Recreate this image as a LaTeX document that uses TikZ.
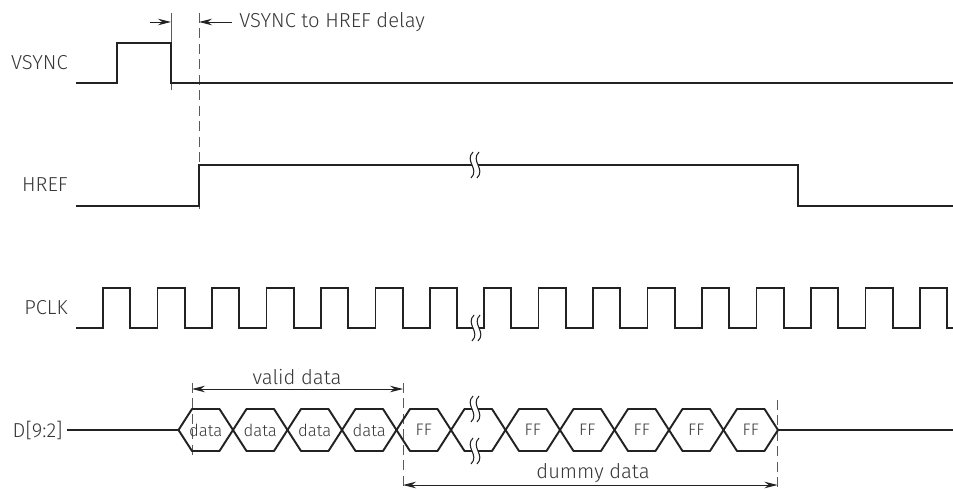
\documentclass[tikz,border=0pt]{standalone}
\usepackage{fontspec}
\setmainfont{Fira Sans Light}
\usetikzlibrary{arrows.meta,positioning}
\definecolor{sigdark}{RGB}{34,34,34}
\definecolor{txtgray}{RGB}{55,55,55}
\definecolor{dashgray}{RGB}{90,90,90}
% break mark: two wavy strokes with white between them
\newcommand{\brksym}[2]{%
  \fill[white] ({#1+1},{#2-13}) .. controls ({#1-8},{#2-4}) and ({#1+8},{#2+4}) .. ({#1-1},{#2+13})
    -- ({#1+5},{#2+13}) .. controls ({#1+14},{#2+4}) and ({#1-2},{#2-4}) .. ({#1+7},{#2-13}) -- cycle;
  \draw[brk] ({#1+1},{#2-13}) .. controls ({#1-8},{#2-4}) and ({#1+8},{#2+4}) .. ({#1-1},{#2+13});
  \draw[brk] ({#1+7},{#2-13}) .. controls ({#1-2},{#2-4}) and ({#1+14},{#2+4}) .. ({#1+5},{#2+13});
}

\begin{document}
\begin{tikzpicture}[x=0.02cm, y=-0.02cm,
        sig/.style={draw=sigdark, line width=1.1pt},
        hexsig/.style={draw=sigdark, line width=1.1pt, line join=bevel},
        dashln/.style={draw=dashgray, line width=0.5pt, dash pattern=on 2mm off 1.1mm},
        markln/.style={draw=dashgray, line width=0.5pt},
        dimarrow/.style={draw=sigdark, line width=0.5pt, -{Stealth[length=2.6mm,width=1.3mm]}},
        dimboth/.style={draw=sigdark, line width=0.5pt, {Stealth[length=2.6mm,width=1.3mm]}-{Stealth[length=2.6mm,width=1.3mm]}},
        brk/.style={draw=sigdark, line width=0.6pt},
        lbl/.style={text=txtgray, font=\fontsize{11.5}{13}\selectfont, inner sep=0pt},
        hexlbl/.style={text=txtgray, font=\fontsize{9.5}{11}\selectfont, inner sep=0pt}
    ]
        \useasboundingbox (0,0) rectangle (953,489);
        % signal names
        \node[lbl, anchor=east] (vsync) at (68,63) {VSYNC};
        \node[lbl, anchor=east] (href) at (68,185) {HREF};
        \node[lbl, anchor=east] (pclk) at (68,308) {PCLK};
        \node[lbl, anchor=east] (dbus) at (63,430) {D[9:2]};
        % marker lines
        \coordinate (vfalltop) at (171,13);
        \coordinate (vfallbot) at (171,90);
        \coordinate (hrisetop) at (199,13);
        \coordinate (hrisebot) at (199,212);
        \draw[markln] (vfalltop) -- (vfallbot);
        \draw[dashln] (hrisetop) -- (hrisebot);
        \coordinate (dlyin) at (150,22);
        \coordinate (dlyl) at (171,22);
        \coordinate (dlyout) at (232,22);
        \coordinate (dlyr) at (199,22);
        \draw[dimarrow] (dlyin) -- (dlyl);
        \draw[dimarrow] (dlyout) -- (dlyr);
        \node[lbl, anchor=west] (delay) at (239,22) {VSYNC to HREF delay};
        % data markers
        \coordinate (vstop) at (192,383);
        \coordinate (vsbot) at (192,457);
        \coordinate (vetop) at (403,383);
        \coordinate (vebot) at (403,489);
        \coordinate (detop) at (777.5,400);
        \coordinate (debot) at (777.5,489);
        \draw[dashln] (vstop) -- (vsbot);
        \draw[dashln] (vetop) -- (vebot);
        \draw[dashln] (detop) -- (debot);
        \coordinate (va) at (192,389);
        \coordinate (vb) at (403,389);
        \coordinate (da) at (403,485);
        \coordinate (db) at (777.5,485);
        \draw[dimboth] (va) -- (vb);
        \draw[dimboth] (da) -- (db);
        \node[lbl] (valid) at (297,377) {valid data};
        \node[lbl] (dummy) at (593,473) {dummy data};
        % VSYNC
        \draw[sig] (76,83) -- (117,83) -- (117,43) -- (171,43) -- (171,83) -- (953,83);
        % HREF
        \draw[sig] (76,206) -- (199,206) -- (199,165) -- (798,165) -- (798,206) -- (953,206);
        % PCLK
        \draw[sig] (76,328)
            foreach \r in {103,157.5,212,266.5,321,375.5,430} { -- (\r,328) -- (\r,288) -- ({\r+27.25},288) -- ({\r+27.25},328) }
            foreach \r in {484,538.5,593,647.5,702,756.5,811,865.5,920} { -- (\r,328) -- (\r,288) -- ({\r+27.25},288) -- ({\r+27.25},328) }
            -- (953,328);
        % D[9:2]
        \draw[sig] (67,430) -- (178.5,430);
        \draw[sig] (778,430) -- (953,430);
        \foreach \k in {0,...,10} {
            \pgfmathsetmacro{\a}{178.5+54.5*\k}
            \pgfmathsetmacro{\b}{\a+54.5}
            \draw[hexsig] (\a,430) -- ({\a+13.5},409) -- ({\b-13.5},409) -- (\b,430) -- ({\b-13.5},451) -- ({\a+13.5},451) -- cycle;
        }
        \foreach \k in {0,...,3}
            \node[hexlbl] (dat\k) at ({205.75+54.5*\k},430) {data};
        \foreach \k in {4,6,7,8,9,10}
            \node[hexlbl] (ff\k) at ({205.75+54.5*\k},430) {FF};
        % breaks
        \brksym{472}{165}
        \brksym{473}{328}
        \brksym{472}{409}
        \brksym{472}{451}
    \end{tikzpicture}
\end{document}
